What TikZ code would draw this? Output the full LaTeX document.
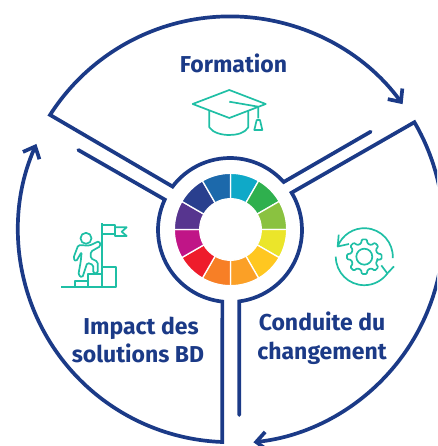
\documentclass[tikz,border=0pt]{standalone}
\usepackage{fontspec}
\setmainfont{Fira Sans}
\usetikzlibrary{arrows.meta}
\definecolor{navy}{HTML}{1B3A87}
\definecolor{iconteal}{HTML}{1FBFA5}
\tikzset{
    band/.style = {line width=3.7pt,draw=navy,miter limit=10,line cap=round,-{Straight Barb[length=10pt,width=18pt,line width=3.7pt]}},
    title/.style = {align=center,text=navy,font=\fontsize{23}{28.5}\selectfont\bfseries},
    icon/.style = {line width=1.7pt,draw=iconteal,line join=round},
    slice/.style = {draw=white,line width=1.3pt},
}
\newcommand{\Slice}[3]{\filldraw[slice,fill=#3] (#1:56.2pt) arc[start angle=#1,end angle=#2,radius=56.2pt] -- (#2:30.8pt) arc[start angle=#2,end angle=#1,radius=30.8pt] -- cycle;}

\begin{document}
\begin{tikzpicture}[x=1pt,y=1pt]
\useasboundingbox (0,0) rectangle (437,446);
\clip (0,0) rectangle (437,446);
\node[title] at (233.5,383) (formation) {Formation};
\node[title] at (138,106) (impact) {\hspace*{6pt}Impact des\\solutions BD};
\node[title] at (322,108) (conduite) {Conduite du\\changement};
%
\begin{scope}[shift={(230.5,216.5)}]
\foreach \a/\col in {60/0FA9C8,30/2FB04E,0/8AC240,-30/EBE52A,-60/FFC720,-90/FBA026,-120/F77F26,-150/EE1C2B,-180/C01587,150/57358F,120/293F8E,90/1C69AB}{
  \definecolor{wedge}{HTML}{\col}
  \Slice{\a}{\a+30}{wedge}
}
\end{scope}
%
\begin{scope}[shift={(230,216)}]
\draw[band] (140.7,98.3) -- (41.8:72pt) arc[start angle=41.8,end angle=142.9,radius=72pt] -- (147.4:213.6pt) arc[start angle=147.4,end angle=36.1,radius=213.6pt];
%
\draw[band] (9.3,-185) -- (-82.6:72pt) arc[start angle=-82.6,end angle=31.2,radius=72pt] -- (30.3:213.6pt) arc[start angle=30.3,end angle=-83.7,radius=213.6pt];
%
\draw[band] (-151.7,80) -- (155:72pt) arc[start angle=155,end angle=263.9,radius=72pt] -- (-7.7,-212) arc[start angle=267.9,end angle=156,radius=212pt];
\end{scope}
%
% cap
\draw[icon] (192.7,342) -- (229.3,356) -- (265.7,342) -- (229.3,328) -- cycle;
\draw[icon] (229.3,344.3) -- (258.3,339.3) -- (258.3,327.7);
\draw[icon] (256.7,326) -- (260,326) -- (262.3,316) -- (254.3,316) -- cycle;
\draw[icon] (209.3,335.3) -- (209.3,318.7) .. controls (213,313) and (222,311) .. (229.3,311) .. controls (237,311) and (245,313) .. (248.3,318.7) -- (248.3,335.3);
%
% climber
\draw[icon] (61,158.7) -- (115.7,158.7) -- (115.7,178.7) -- (101.7,178.7);
\draw[icon] (75,158.7) -- (75,165.3) -- (88.3,165.3);
\draw[icon] (88.3,158.7) -- (88.3,172) -- (101.7,172);
\draw[icon] (101.7,158.7) -- (101.7,223.3);
\draw[icon] (101.7,221) -- (115,221) -- (115,212) -- (101.7,212);
\draw[icon] (115,218.7) -- (126.7,218.7) -- (121.7,214.3) -- (126.7,210) -- (115,210) -- (115,212);
\draw[icon] (86,207.7) circle[radius=5.5pt];
\draw[icon,rounded corners=1.6pt] (99.3,205) -- (89.3,200.3) -- (78.3,201) -- (73.3,187.7) -- (76,184.3) -- (81.7,194.3) -- (80.7,184.3) -- (78.3,171) -- (82.3,168.3) -- (87.3,183.3) -- (93.3,181) -- (93.3,172.7) -- (97.7,172.7) -- (97.7,184.3) -- (90.7,187.7) -- (90.7,194.3) -- (100.7,200) -- cycle;
%
% gear
\begin{scope}[shift={(364.3,189.3)}]
\draw[icon] (0,0) circle[radius=8pt];
\draw[icon,rounded corners=1pt] (-14:13.5pt) \foreach \a in {0,45,...,315} { -- (\a-14:13.5pt) -- (\a-8:17.5pt) -- (\a+8:17.5pt) -- (\a+14:13.5pt) } -- cycle;
\draw[icon] (-3:28.5pt) arc[start angle=-3,end angle=159,radius=28.5pt];
\draw[icon] (-25.6,22) -- (159:28.5pt) -- (-15.3,12.7);
\draw[icon] (180:28.5pt) arc[start angle=180,end angle=324,radius=28.5pt];
\draw[icon] (17,-8.7) -- (324:28.5pt) -- (29.6,-9.7);
\end{scope}
\end{tikzpicture}
\end{document}
